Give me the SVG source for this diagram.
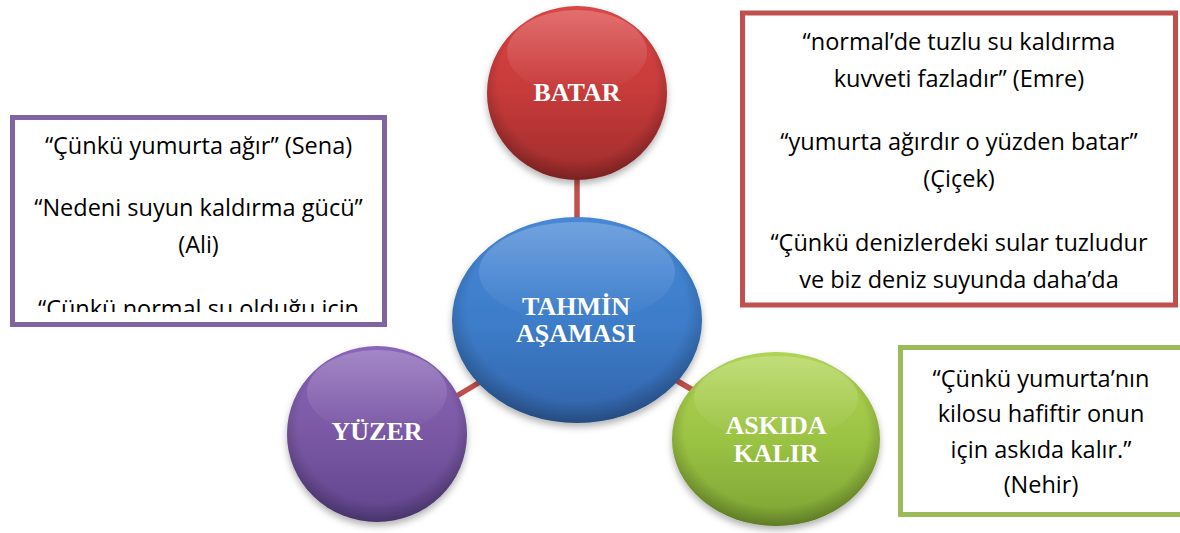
<svg xmlns="http://www.w3.org/2000/svg" width="1180" height="533" viewBox="0 0 1180 533">
<style>
.note{font-family:"Open Sans","Liberation Sans",sans-serif;font-size:23.5px;fill:#000;text-anchor:middle}
.lbl{font-family:"Liberation Serif","Times New Roman",serif;font-size:26px;font-weight:bold;fill:#fff;text-anchor:middle}
.conn{stroke:#c0504d;stroke-width:5.5;fill:none}
.box{fill:#fff;stroke-width:5}
</style>
<defs>
<linearGradient id="gRed" x1="0" y1="0" x2="0" y2="1"><stop offset="0" stop-color="#da4646"/><stop offset="0.5" stop-color="#c63a3a"/><stop offset="1" stop-color="#a02c2c"/></linearGradient>
<linearGradient id="gBlue" x1="0" y1="0" x2="0" y2="1"><stop offset="0" stop-color="#4888d6"/><stop offset="0.5" stop-color="#3d7dca"/><stop offset="1" stop-color="#3264aa"/></linearGradient>
<linearGradient id="gPurple" x1="0" y1="0" x2="0" y2="1"><stop offset="0" stop-color="#8a66b8"/><stop offset="0.5" stop-color="#7a58a4"/><stop offset="1" stop-color="#60448c"/></linearGradient>
<linearGradient id="gGreen" x1="0" y1="0" x2="0" y2="1"><stop offset="0" stop-color="#b0d454"/><stop offset="0.5" stop-color="#9bc343"/><stop offset="1" stop-color="#7da333"/></linearGradient>
<radialGradient id="rim" cx="0.5" cy="0.45" r="0.55"><stop offset="0.8" stop-color="#000" stop-opacity="0"/><stop offset="1" stop-color="#000" stop-opacity="0.25"/></radialGradient>
<linearGradient id="gloss" x1="0" y1="0" x2="0" y2="1"><stop offset="0" stop-color="#fff" stop-opacity="0.22"/><stop offset="1" stop-color="#fff" stop-opacity="0"/></linearGradient>
<filter id="sh" x="-20%" y="-20%" width="140%" height="150%"><feDropShadow dx="0" dy="4" stdDeviation="3.5" flood-color="#000" flood-opacity="0.3"/></filter>
<clipPath id="clipPurple"><rect x="15" y="120" width="367" height="192"/></clipPath>
<clipPath id="clipRed"><rect x="745" y="15" width="428" height="287"/></clipPath>
</defs>
<rect width="1180" height="533" fill="#fff"/>

<g id="connectors">
<line class="conn" x1="577" y1="150" x2="577" y2="250"/>
<line class="conn" x1="430" y1="412" x2="500" y2="370"/>
<line class="conn" x1="660" y1="371" x2="710" y2="400"/>
</g>

<g id="note-purple">
<rect class="box" x="12.5" y="117.5" width="372" height="207" stroke="#8064a2"/>
<g clip-path="url(#clipPurple)">
<text class="note" x="198.5" y="154">“Çünkü yumurta ağır” (Sena)</text>
<text class="note" x="198.5" y="216">“Nedeni suyun kaldırma gücü”</text>
<text class="note" x="198.5" y="253">(Ali)</text>
<text class="note" x="198.5" y="317">“Çünkü normal su olduğu için</text>
</g>
</g>

<g id="note-red">
<rect class="box" x="742.5" y="13" width="433" height="292" stroke="#c0504d"/>
<g clip-path="url(#clipRed)">
<text class="note" x="959" y="50">“normal’de tuzlu su kaldırma</text>
<text class="note" x="959" y="87">kuvveti fazladır” (Emre)</text>
<text class="note" x="959" y="150">“yumurta ağırdır o yüzden batar”</text>
<text class="note" x="959" y="187">(Çiçek)</text>
<text class="note" x="959" y="251">“Çünkü denizlerdeki sular tuzludur</text>
<text class="note" x="959" y="288">ve biz deniz suyunda daha’da</text>
</g>
</g>

<g id="note-green">
<rect class="box" x="900.5" y="347.5" width="300" height="167" stroke="#9bbb59"/>
<text class="note" x="1041" y="387">“Çünkü yumurta’nın</text>
<text class="note" x="1041" y="422">kilosu hafiftir onun</text>
<text class="note" x="1041" y="458">için askıda kalır.”</text>
<text class="note" x="1041" y="493">(Nehir)</text>
</g>

<g id="node-batar">
<ellipse cx="577" cy="93" rx="90" ry="87" fill="url(#gRed)" filter="url(#sh)"/>
<ellipse cx="577" cy="93" rx="90" ry="87" fill="url(#rim)"/>
<ellipse cx="577" cy="52" rx="70" ry="42" fill="url(#gloss)"/>
<text class="lbl" x="577" y="101">BATAR</text>
</g>

<g id="node-tahmin">
<ellipse cx="577" cy="320" rx="125" ry="103" fill="url(#gBlue)" filter="url(#sh)"/>
<ellipse cx="577" cy="320" rx="125" ry="103" fill="url(#rim)"/>
<ellipse cx="577" cy="272" rx="98" ry="50" fill="url(#gloss)"/>
<text class="lbl" x="576" y="315">TAHMİN</text>
<text class="lbl" x="576" y="342">AŞAMASI</text>
</g>

<g id="node-yuzer">
<ellipse cx="377" cy="434" rx="90" ry="88" fill="url(#gPurple)" filter="url(#sh)"/>
<ellipse cx="377" cy="434" rx="90" ry="88" fill="url(#rim)"/>
<ellipse cx="377" cy="392" rx="70" ry="42" fill="url(#gloss)"/>
<text class="lbl" x="377" y="440">YÜZER</text>
</g>

<g id="node-askida">
<ellipse cx="776" cy="439" rx="104" ry="87" fill="url(#gGreen)" filter="url(#sh)"/>
<ellipse cx="776" cy="439" rx="104" ry="87" fill="url(#rim)"/>
<ellipse cx="776" cy="398" rx="82" ry="42" fill="url(#gloss)"/>
<text class="lbl" x="776" y="434">ASKIDA</text>
<text class="lbl" x="776" y="462">KALIR</text>
</g>
</svg>
